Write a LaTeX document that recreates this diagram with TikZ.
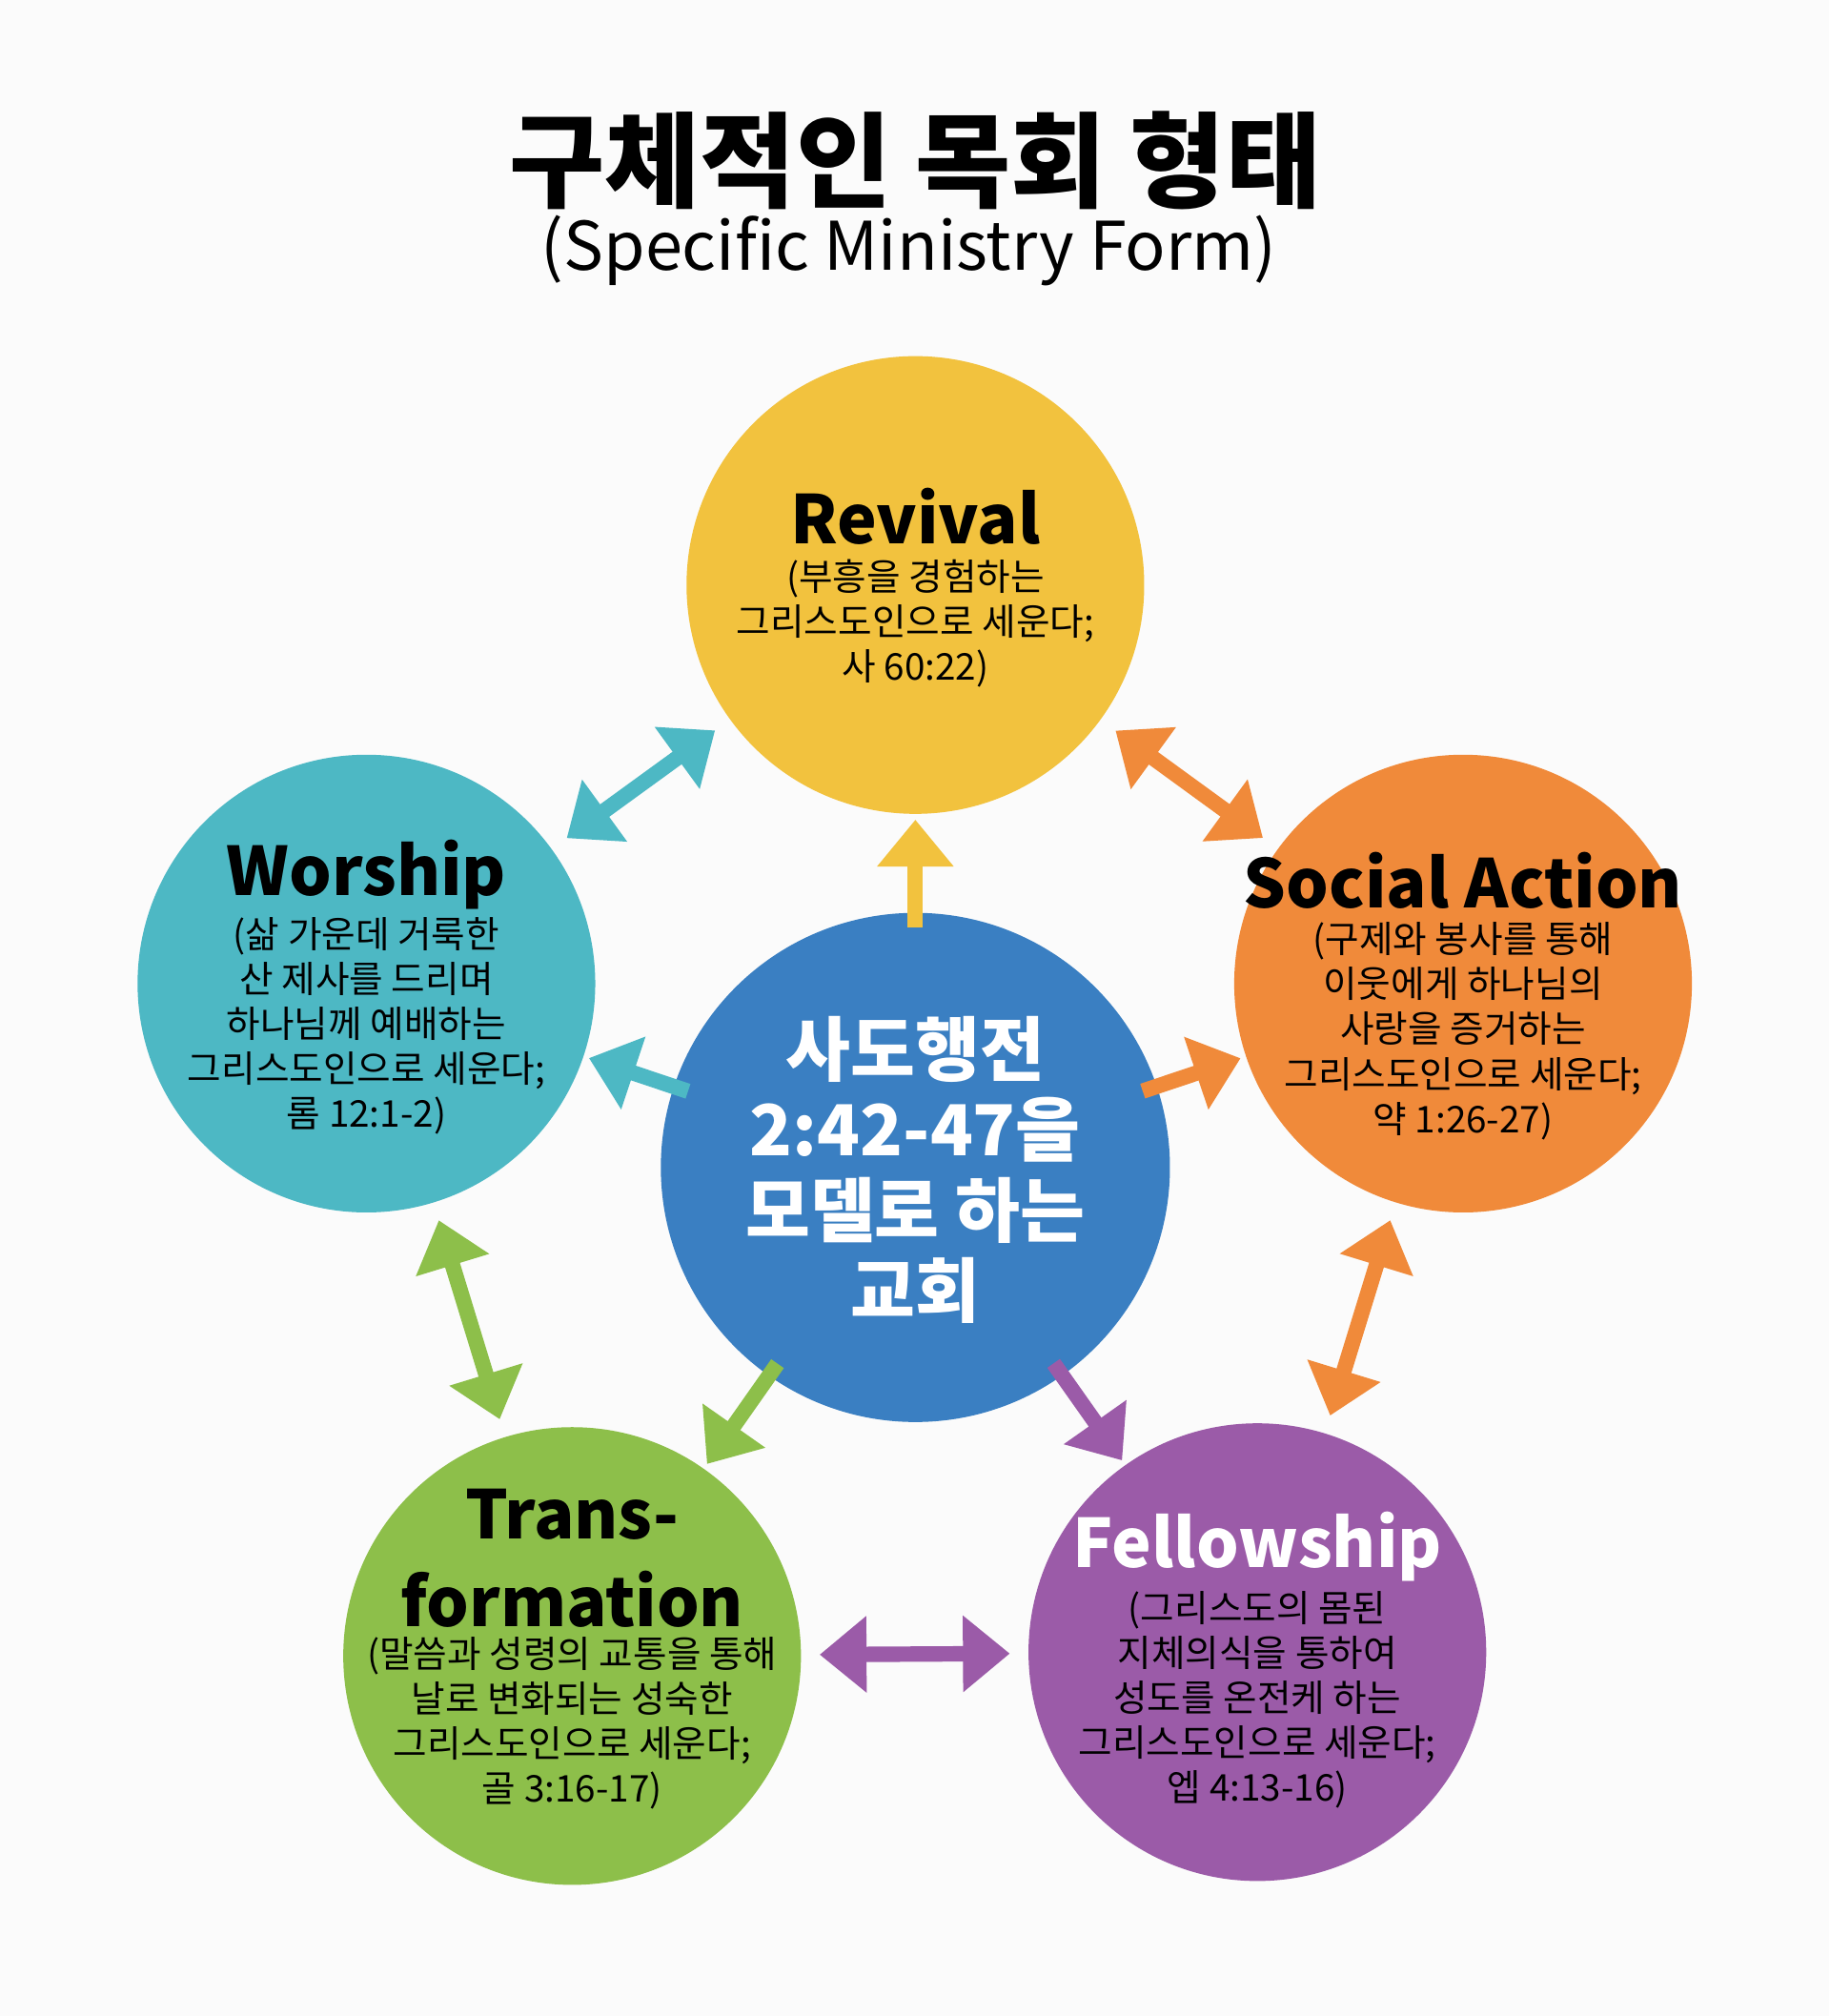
\documentclass[tikz,border=0pt]{standalone}
\usepackage{fontspec}
\setmainfont{Noto Sans CJK KR}
\usetikzlibrary{arrows.meta}
\definecolor{cy}{HTML}{F2C23E}
\definecolor{ct}{HTML}{4DB8C4}
\definecolor{co}{HTML}{F08A3A}
\definecolor{cg}{HTML}{8DBF4A}
\definecolor{cp}{HTML}{9B5BA8}
\definecolor{cb}{HTML}{3A7FC2}
\begin{document}
\begin{tikzpicture}[x=0.01349cm,y=-0.01349cm,
  circ/.style={circle,minimum size=356*0.01349cm,inner sep=0pt},
  head/.style={font=\fontsize{20}{22}\selectfont\bfseries},
  body/.style={font=\fontsize{11}{13.4}\selectfont,align=center},
  dbl/.style={line width=12*0.01349cm,{Triangle[length=14pt,width=22pt]}-{Triangle[length=14pt,width=22pt]},shorten <=14*0.01349cm,shorten >=14*0.01349cm},
  sgl/.style={line width=12*0.01349cm,-{Triangle[length=14pt,width=22pt]},shorten <=-12*0.01349cm,shorten >=4*0.01349cm}]
\fill[white!97!gray] (0,0) rectangle (1423,1568);
\node[font=\fontsize{31}{34}\selectfont\bfseries] (title) at (712,125) {구체적인 목회 형태};
\node[font=\fontsize{20}{22}\selectfont] (sub) at (707,195) {(Specific Ministry Form)};

\node[circ,fill=cy] (rev) at (712,455) {};
\node[circ,fill=ct] (wor) at (285,765) {};
\node[circ,fill=co] (soc) at (1138,765) {};
\node[circ,fill=cg] (tra) at (445,1288) {};
\node[circ,fill=cp] (fel) at (978,1285) {};
\node[circle,minimum size=396*0.01349cm,fill=cb] (cen) at (712,908) {};

\node[head] at (712,402) {Revival};
\node[body] at (712,485) {(부흥을 경험하는\\그리스도인으로 세운다;\\사 60:22)};
\node[head] at (285,680) {Worship};
\node[body] at (285,798) {(삶 가운데 거룩한\\산 제사를 드리며\\하나님께 예배하는\\그리스도인으로 세운다;\\롬 12:1-2)};
\node[head] at (1138,685) {Social Action};
\node[body] at (1138,802) {(구제와 봉사를 통해\\이웃에게 하나님의\\사랑을 증거하는\\그리스도인으로 세운다;\\약 1:26-27)};
\node[head,align=center,font=\fontsize{20}{26}\selectfont\bfseries] at (445,1212) {Trans-\\formation};
\node[body] at (445,1340) {(말씀과 성령의 교통을 통해\\날로 변화되는 성숙한\\그리스도인으로 세운다;\\골 3:16-17)};
\node[head,text=white] at (978,1203) {Fellowship};
\node[body] at (978,1322) {(그리스도의 몸된\\지체의식을 통하여\\성도를 온전케 하는\\그리스도인으로 세운다;\\엡 4:13-16)};
\node[text=white,align=center,font=\fontsize{21}{24}\selectfont\bfseries] at (712,910) {사도행전\\2:42-47을\\모델로 하는\\교회};

\draw[dbl,ct] (wor) -- (rev);
\draw[dbl,co] (rev) -- (soc);
\draw[dbl,co] (soc) -- (fel);
\draw[dbl,cp] (tra) -- (fel);
\draw[dbl,cg] (wor) -- (tra);
\draw[sgl,cy] (cen) -- (rev);
\draw[sgl,ct] (cen) -- (wor);
\draw[sgl,co] (cen) -- (soc);
\draw[sgl,cg] (cen) -- (tra);
\draw[sgl,cp] (cen) -- (fel);
\end{tikzpicture}
\end{document}
